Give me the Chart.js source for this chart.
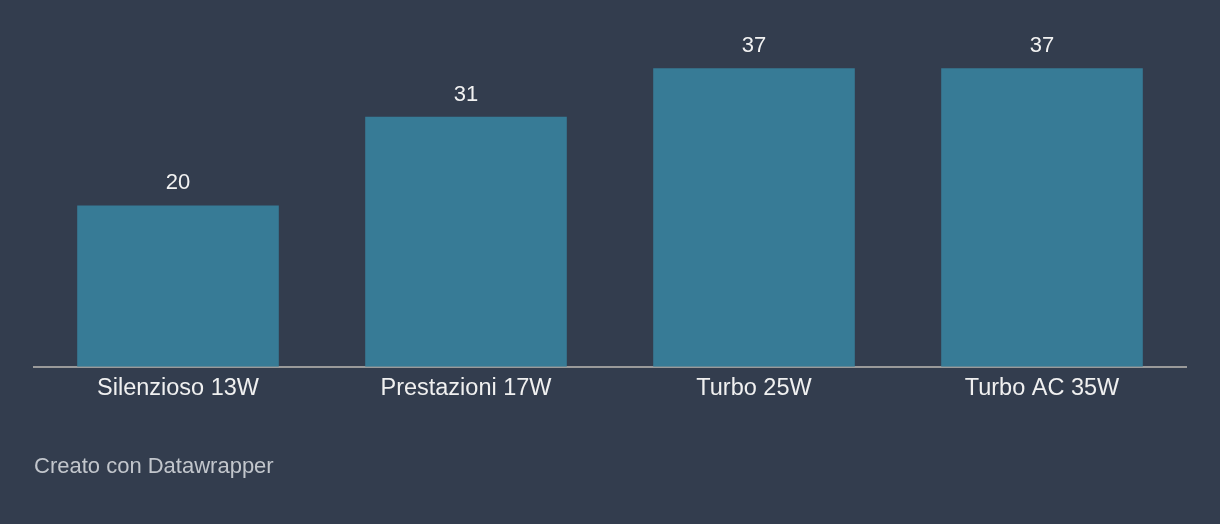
<!DOCTYPE html>
<html>
<head>
<meta charset="utf-8">
<script src="https://cdn.jsdelivr.net/npm/chart.js@4"></script>
<style>
  html, body { margin: 0; padding: 0; background: #333d4e; }
  #wrap { position: relative; width: 1220px; height: 524px; }
  #footer {
    position: absolute; left: 34px; top: 453px;
    font: 22px "Liberation Sans", Arial, sans-serif; color: #c2c6cc;
  }
</style>
</head>
<body>
<div id="wrap">
  <canvas id="barChart" width="1220" height="524"></canvas>
  <div id="footer">Creato con Datawrapper</div>
</div>
<script>
const categories = ['Silenzioso 13W', 'Prestazioni 17W', 'Turbo 25W', 'Turbo AC 35W'];
const values = [20, 31, 37, 37];

const FONT = '"Liberation Sans", Arial, sans-serif';

// etichette dei valori sopra le barre
const valueLabels = {
    id: 'valueLabels',
    afterDatasetsDraw(chart) {
        const ctx = chart.ctx;
        const meta = chart.getDatasetMeta(0);
        ctx.save();
        ctx.font = '22px ' + FONT;
        ctx.fillStyle = '#f2f2f2';
        ctx.textAlign = 'center';
        ctx.textBaseline = 'alphabetic';
        meta.data.forEach((bar, i) => {
            ctx.fillText(values[i], bar.x, bar.y - 16);
        });
        ctx.restore();
    }
};

const ctx = document.getElementById('barChart').getContext('2d');
new Chart(ctx, {
    type: 'bar',
    data: {
        labels: categories,
        datasets: [{
            data: values,
            backgroundColor: '#377b96',
            borderWidth: 0,
            categoryPercentage: 1,
            barPercentage: 0.70
        }]
    },
    options: {
        responsive: false,
        animation: false,
        layout: { padding: { left: 34, right: 34, top: 44, bottom: 113 } },
        plugins: { legend: { display: false }, tooltip: { enabled: false } },
        scales: {
            x: {
                grid: { display: false, drawTicks: false },
                border: { display: true, color: '#9a9a9a', width: 2 },
                ticks: { color: '#f0f0f0', font: { family: FONT, size: 23.5 }, padding: 8 }
            },
            y: {
                display: false,
                min: 0,
                max: 40
            }
        }
    },
    plugins: [valueLabels]
});
</script>
</body>
</html>
